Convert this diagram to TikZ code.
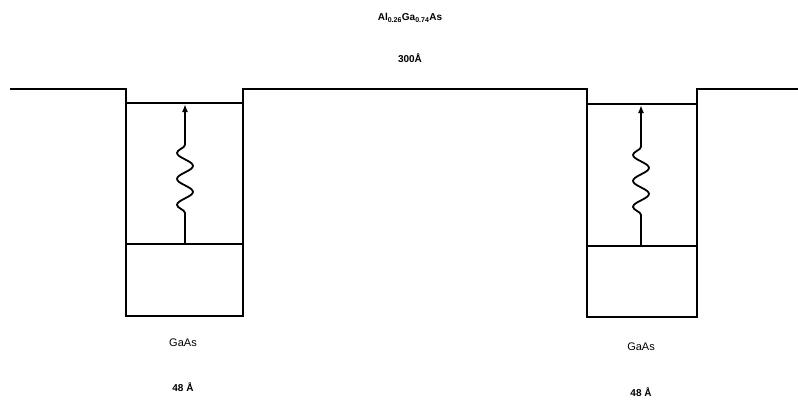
\documentclass[tikz,border=0pt]{standalone}
\usepackage{fontspec}
\setmainfont{Liberation Sans}
\usetikzlibrary{decorations.pathmorphing,arrows.meta}
\begin{document}
\begin{tikzpicture}[x=1pt,y=-1pt,
  band/.style={line width=1.5pt,line join=miter},
  level/.style={line width=1.5pt},
  photon/.style={line width=1.8pt,-{Latex[length=8pt,width=6pt]},
    decorate,decoration={snake,segment length=26pt,amplitude=8pt,pre length=31pt,post length=38pt}},
  lbl/.style={font=\fontsize{11}{13}\selectfont,inner sep=0pt},
  blbl/.style={font=\fontsize{10}{12}\selectfont\bfseries,inner sep=0pt}]
\useasboundingbox (0,0) rectangle (798,404);
% band profile
\coordinate (b0) at (10,89);
\coordinate (w1a) at (126,89);
\coordinate (w1b) at (126,316);
\coordinate (w1c) at (243,316);
\coordinate (w1d) at (243,89);
\coordinate (w2a) at (587,89);
\coordinate (w2b) at (587,317);
\coordinate (w2c) at (697,317);
\coordinate (w2d) at (697,89);
\coordinate (b1) at (798,89);
\draw[band] (b0) -- (w1a) -- (w1b) -- (w1c) -- (w1d) -- (w2a) -- (w2b) -- (w2c) -- (w2d) -- (b1);
% levels
\coordinate (u1l) at (126,103); \coordinate (u1r) at (243,103);
\coordinate (l1l) at (126,244); \coordinate (l1r) at (243,244);
\coordinate (u2l) at (587,104); \coordinate (u2r) at (697,104);
\coordinate (l2l) at (587,246); \coordinate (l2r) at (697,246);
\draw[level] (u1l) -- (u1r);
\draw[level] (l1l) -- (l1r);
\draw[level] (u2l) -- (u2r);
\draw[level] (l2l) -- (l2r);
% photon arrows
\coordinate (p1s) at (185,244); \coordinate (p1e) at (185,104);
\coordinate (p2s) at (641,246); \coordinate (p2e) at (641,105);
\draw[photon] (p1s) -- (p1e);
\draw[photon] (p2s) -- (p2e);
% labels
\node[blbl] (t1) at (410,18) {Al\textsubscript{0.26}Ga\textsubscript{0.74}As};
\node[blbl] (t2) at (410,58) {300Å};
\node[lbl] (g1) at (183,343) {GaAs};
\node[blbl] (d1) at (183,387) {48 Å};
\node[lbl] (g2) at (641,347) {GaAs};
\node[blbl] (d2) at (641,392) {48 Å};
\end{tikzpicture}
\end{document}
